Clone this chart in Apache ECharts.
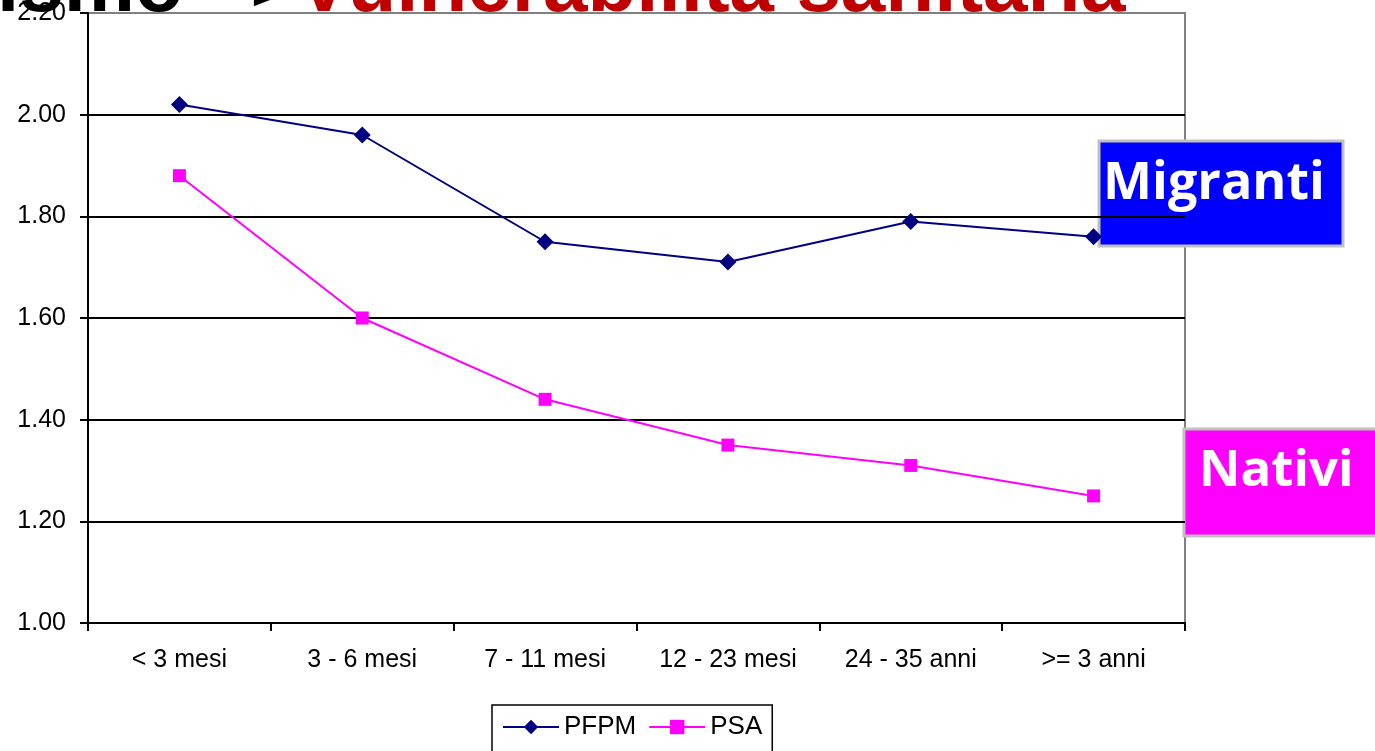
<!DOCTYPE html>
<html>
<head>
<meta charset="utf-8">
<script src="https://cdn.jsdelivr.net/npm/echarts@6/dist/echarts.min.js"></script>
<style>
html,body{margin:0;padding:0;background:#fff;}
#chart{width:1375px;height:751px;}
</style>
</head>
<body>
<div id="chart"></div>
<script>
const categories = ['< 3 mesi', '3 - 6 mesi', '7 - 11 mesi', '12 - 23 mesi', '24 - 35 anni', '>= 3 anni'];
const pfpm = [2.02, 1.96, 1.75, 1.71, 1.79, 1.76];
const psa = [1.88, 1.60, 1.44, 1.35, 1.31, 1.25];
const seriesNames = ['PFPM', 'PSA'];
const titleBlack = 'ismo –>';
const titleRed = 'Vulnerabilità sanitaria';
const labelMigranti = 'Migranti';
const labelNativi = 'Nativi';

const chart = echarts.init(document.getElementById('chart'), null, {renderer: 'canvas'});
const axisFont = {fontFamily: 'Arial, "Liberation Sans", sans-serif', fontSize: 25, color: '#000'};
chart.setOption({
  animation: false,
  backgroundColor: '#fff',
  grid: {left: 88, right: 190, top: 13, bottom: 128, show: true, borderColor: '#808080', borderWidth: 2, backgroundColor: 'transparent'},
  xAxis: {
    type: 'category',
    data: categories,
    boundaryGap: true,
    axisLine: {lineStyle: {color: '#000', width: 2}},
    axisTick: {show: true, length: 8, lineStyle: {color: '#000', width: 2}},
    axisLabel: Object.assign({margin: 25}, axisFont),
    splitLine: {show: false}
  },
  yAxis: {
    type: 'value',
    min: 1.0, max: 2.2, interval: 0.2,
    axisLine: {show: true, lineStyle: {color: '#000', width: 2}},
    axisTick: {show: true, length: 8, lineStyle: {color: '#000', width: 2}},
    axisLabel: Object.assign({margin: 22, formatter: v => v.toFixed(2)}, axisFont),
    splitLine: {show: true, lineStyle: {color: ['#000','#000','#000','#000','#000','#000','#808080'], width: 2}}
  },
  legend: {
    data: seriesNames,
    left: 492, top: 705,
    itemWidth: 56, itemHeight: 18, itemGap: 12,
    borderColor: '#000', borderWidth: 1.5,
    padding: [9, 10, 16, 10],
    textStyle: {fontFamily: 'Arial, "Liberation Sans", sans-serif', fontSize: 26, color: '#000'}
  },
  series: [
    {name: 'PFPM', type: 'line', data: pfpm, symbol: 'diamond', symbolSize: 17,
      lineStyle: {color: '#000080', width: 2}, itemStyle: {color: '#000080'}, z: 3},
    {name: 'PSA', type: 'line', data: psa, symbol: 'rect', symbolSize: 13,
      lineStyle: {color: '#FF00FF', width: 2}, itemStyle: {color: '#FF00FF'}, z: 3}
  ],
  graphic: [
    {type: 'text', left: -3, top: -51, z: 0, style: {text: titleBlack, fill: '#000', font: 'bold 80px Arial, "Liberation Sans", sans-serif'}},
    {type: 'text', left: 297, top: -51, z: 0, style: {text: titleRed, fill: '#C00000', font: 'bold 80px Arial, "Liberation Sans", sans-serif'}},
    {type: 'group', z: 10, children: [
      {type: 'rect', shape: {x: 1099, y: 141, width: 244, height: 105}, style: {fill: '#0000FF', stroke: '#C0C0C0', lineWidth: 3}},
      {type: 'text', x: 1103, y: 184, style: {text: labelMigranti, fill: '#fff', font: 'bold 52px "Open Sans", sans-serif', verticalAlign: 'middle', align: 'left'}}
    ]},
    {type: 'group', z: 10, children: [
      {type: 'rect', shape: {x: 1184, y: 429, width: 200, height: 107}, style: {fill: '#FF00FF', stroke: '#C0C0C0', lineWidth: 3}},
      {type: 'text', x: 1199, y: 471, style: {text: labelNativi, fill: '#fff', font: 'bold 51px "Open Sans", sans-serif', verticalAlign: 'middle', align: 'left'}}
    ]}
  ]
});
</script>
</body>
</html>
